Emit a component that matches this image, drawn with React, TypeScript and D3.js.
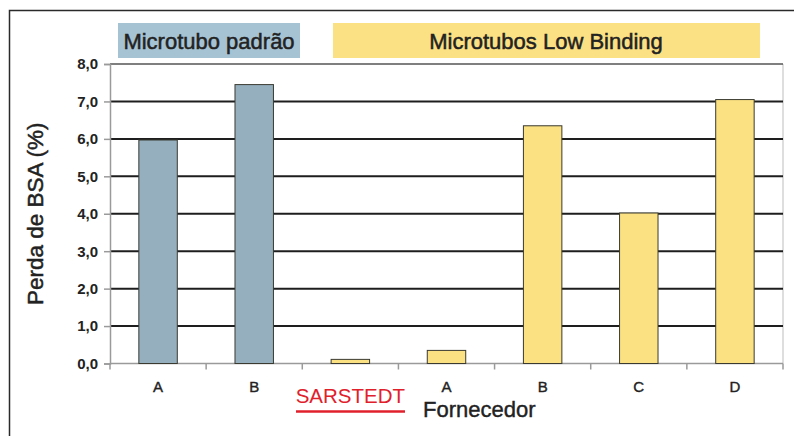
import React, { useEffect, useRef } from 'react';
import * as d3 from 'd3';

// slots on the x axis, group each bar belongs to, and values (% BSA loss)
const slots = ['pA', 'pB', 'sarstedt', 'lA', 'lB', 'lC', 'lD'];
const slotLabels = ['A', 'B', '', 'A', 'B', 'C', 'D'];
const groups = ['padrao', 'padrao', 'low', 'low', 'low', 'low', 'low'];
const values = [5.97, 7.45, 0.11, 0.35, 6.35, 4.02, 7.05];
const yTicks = [0, 1, 2, 3, 4, 5, 6, 7, 8];

const colors = {
  padrao: '#95afbf',
  low: '#fbe182',
  headerBlue: '#a6c3d4',
  headerYellow: '#fbe183',
  barStroke: '#3a3a30',
  grid: '#1e1e1e',
  axis: '#9a9a9a',
  text: '#222222',
  red: '#e0212b',
};

const font = '"Liberation Sans", Arial, sans-serif';

export default function App() {
  const svgRef = useRef<SVGSVGElement | null>(null);

  useEffect(() => {
    const svgEl = svgRef.current;
    if (!svgEl) return;
    const width = 794;
    const height = 436;
    const svg = d3.select(svgEl);
    svg.selectAll('*').remove();

    const margin = { top: 64, right: 11, bottom: 72.5, left: 110 };
    const innerW = width - margin.left - margin.right;
    const innerH = height - margin.top - margin.bottom;

    // outer frame (top and left edges visible)
    svg.append('path')
      .attr('d', `M9.5,${height} V10.5 H${width}`)
      .attr('fill', 'none')
      .attr('stroke', '#2a2a2a')
      .attr('stroke-width', 1.5);

    const g = svg.append('g').attr('transform', `translate(${margin.left},${margin.top})`);

    const x = d3.scaleBand().domain(slots).range([0, innerW]).paddingInner(0.6).paddingOuter(0.3);
    const slotScale = d3.scaleBand().domain(slots).range([0, innerW]);
    const y = d3.scaleLinear().domain([0, 8]).range([innerH, 0]);

    // plot frame: right border light gray
    g.append('line')
      .attr('x1', innerW).attr('x2', innerW)
      .attr('y1', 0).attr('y2', innerH)
      .attr('stroke', '#bdbdbd').attr('stroke-width', 1);

    // grid lines
    g.append('g')
      .selectAll('line')
      .data(yTicks.filter((t) => t > 0 && t < 8))
      .join('line')
      .attr('x1', 0).attr('x2', innerW)
      .attr('y1', (d) => y(d)).attr('y2', (d) => y(d))
      .attr('stroke', colors.grid)
      .attr('stroke-width', 2);

    // top line
    g.append('line')
      .attr('x1', 0).attr('x2', innerW)
      .attr('y1', y(8)).attr('y2', y(8))
      .attr('stroke', '#555').attr('stroke-width', 1.5);

    // y axis
    const yAxis = g.append('g')
      .call(d3.axisLeft(y).tickValues(yTicks).tickSize(6).tickFormat((d) => d3.format('.1f')(d as number).replace('.', ',')));
    yAxis.selectAll('path,line').attr('stroke', colors.axis).attr('stroke-width', 1.5);
    yAxis.selectAll('text')
      .attr('fill', colors.text)
      .attr('font-size', 15)
      .attr('font-weight', 700)
      .attr('font-family', font)
      .attr('x', -12);

    // x axis with ticks at slot boundaries
    const xAxisG = g.append('g').attr('transform', `translate(0,${innerH})`);
    xAxisG.append('line')
      .attr('x1', 0).attr('x2', innerW)
      .attr('stroke', colors.axis).attr('stroke-width', 1.5);
    xAxisG.selectAll('.tick')
      .data(d3.range(slots.length + 1))
      .join('line')
      .attr('x1', (i) => i * slotScale.step())
      .attr('x2', (i) => i * slotScale.step())
      .attr('y1', 0).attr('y2', 6)
      .attr('stroke', colors.axis).attr('stroke-width', 1.5);

    xAxisG.selectAll('text.lbl')
      .data(slots)
      .join('text')
      .attr('class', 'lbl')
      .attr('x', (d) => (slotScale(d) ?? 0) + slotScale.bandwidth() / 2)
      .attr('y', 28)
      .attr('text-anchor', 'middle')
      .attr('fill', colors.text)
      .attr('stroke', colors.text)
      .attr('stroke-width', 0.4)
      .attr('font-size', 15)
      .attr('font-family', font)
      .text((d, i) => slotLabels[i]);

    // bars
    g.selectAll('rect.bar')
      .data(values)
      .join('rect')
      .attr('class', 'bar')
      .attr('x', (d, i) => x(slots[i]) ?? 0)
      .attr('y', (d) => y(d))
      .attr('width', x.bandwidth())
      .attr('height', (d) => innerH - y(d))
      .attr('fill', (d, i) => colors[groups[i] as 'padrao' | 'low'])
      .attr('stroke', colors.barStroke)
      .attr('stroke-width', 1);

    // header boxes
    const headers = [
      { x0: 118, x1: 300, fill: colors.headerBlue, text: 'Microtubo padrão', tx: 209 },
      { x0: 333, x1: 760, fill: colors.headerYellow, text: 'Microtubos Low Binding', tx: 546 },
    ];
    headers.forEach((h) => {
      svg.append('rect')
        .attr('x', h.x0).attr('y', 23)
        .attr('width', h.x1 - h.x0).attr('height', 35)
        .attr('fill', h.fill);
      svg.append('text')
        .attr('x', h.tx).attr('y', 49)
        .attr('text-anchor', 'middle')
        .attr('fill', colors.text)
        .attr('stroke', colors.text)
        .attr('stroke-width', 0.5)
        .attr('font-size', 22)
        .attr('font-family', font)
        .text(h.text);
    });

    // y axis title
    svg.append('text')
      .attr('transform', `translate(43,${margin.top + innerH / 2}) rotate(-90)`)
      .attr('text-anchor', 'middle')
      .attr('fill', colors.text)
      .attr('stroke', colors.text)
      .attr('stroke-width', 0.5)
      .attr('font-size', 22.5)
      .attr('font-family', font)
      .text('Perda de BSA (%)');

    // SARSTEDT label
    const sx = margin.left + (slotScale('sarstedt') ?? 0) + slotScale.bandwidth() / 2;
    svg.append('text')
      .attr('x', sx).attr('y', 403)
      .attr('text-anchor', 'middle')
      .attr('fill', colors.red)
      .attr('font-size', 20.5)
      .attr('font-family', font)
      .text('SARSTEDT');
    svg.append('line')
      .attr('x1', 296).attr('x2', 405)
      .attr('y1', 411.5).attr('y2', 411.5)
      .attr('stroke', colors.red).attr('stroke-width', 2.5);

    svg.append('text')
      .attr('x', 423).attr('y', 417)
      .attr('fill', colors.text)
      .attr('stroke', colors.text)
      .attr('stroke-width', 0.4)
      .attr('font-size', 22)
      .attr('font-family', font)
      .text('Fornecedor');
  }, []);

  return (
    <svg
      ref={svgRef}
      width={794}
      height={436}
      style={{ position: 'absolute', left: 0, top: 0, background: '#fff' }}
    />
  );
}
